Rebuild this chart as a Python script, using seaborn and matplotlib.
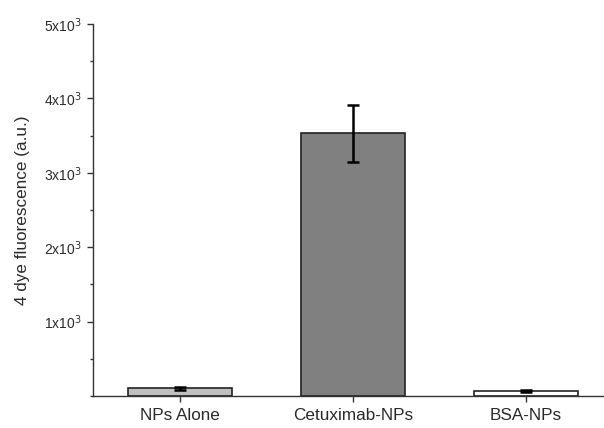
import matplotlib
matplotlib.use("Agg")
import matplotlib.pyplot as plt
import numpy as np
import pandas as pd
import seaborn as sns
from matplotlib.ticker import FixedLocator, MultipleLocator, FuncFormatter

# data
groups = ["NPs Alone", "Cetuximab-NPs", "BSA-NPs"]
fluorescence = [100, 3530, 70]
err = [20, 385, 12]
bar_colors = ["#c0c0c0", "#808080", "#ffffff"]

df = pd.DataFrame({"group": groups, "value": fluorescence})

sns.set_theme(style="ticks")
plt.rcParams["font.family"] = ["Liberation Sans", "DejaVu Sans"]

fig = plt.figure(figsize=(6.04, 4.28), dpi=100)
ax = fig.add_axes([0.154, 0.075, 0.846, 0.869])

sns.barplot(data=df, x="group", y="value", hue="group", palette=bar_colors,
            width=0.6, edgecolor="#222222", linewidth=1.2, errorbar=None,
            legend=False, ax=ax)

# error bars on the bar centres
xs = np.arange(len(groups))
ax.errorbar(xs, fluorescence, yerr=err, fmt="none", ecolor="black",
            elinewidth=1.8, capsize=4.5, capthick=1.8)

ax.set_ylim(0, 5000)
ax.set_xlim(-0.5, 2.45)
ax.yaxis.set_major_locator(FixedLocator([1000, 2000, 3000, 4000, 5000]))
ax.yaxis.set_minor_locator(MultipleLocator(500))
ax.yaxis.set_major_formatter(FuncFormatter(lambda v, p: r"%dx10$^3$" % int(v / 1000)))

sns.despine(ax=ax)
for s in ["left", "bottom"]:
    ax.spines[s].set_color("#333333")
    ax.spines[s].set_linewidth(1.0)

ax.tick_params(axis="y", which="major", length=4, width=1, labelsize=10, colors="#333333", pad=4)
ax.tick_params(axis="y", which="minor", length=2.5, width=1, colors="#333333")
ax.tick_params(axis="x", length=4, width=1, labelsize=12.3, colors="#333333", pad=5)
for t in ax.get_yticklabels() + ax.get_xticklabels():
    t.set_color("#2a2a2a")

ax.set_xlabel("")
ax.set_ylabel("4 dye fluorescence (a.u.)", fontsize=12.3, color="#2a2a2a", labelpad=10)

fig.savefig("out.png", dpi=100)
